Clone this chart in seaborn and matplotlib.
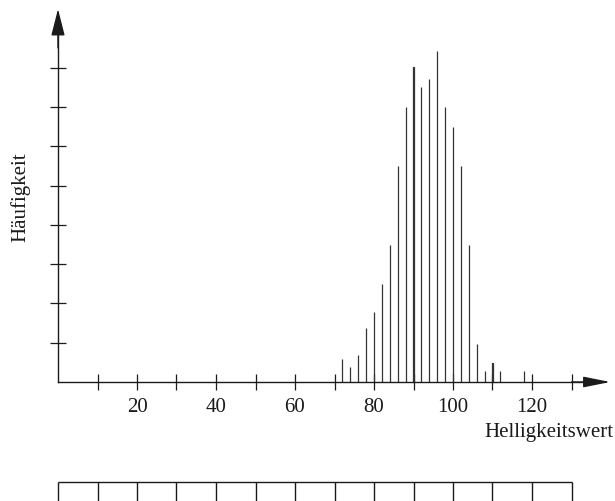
import matplotlib
matplotlib.use('Agg')
import matplotlib.pyplot as plt
import seaborn as sns
import pandas as pd

# Histogramm: Helligkeitswert -> Häufigkeit
helligkeit = [72, 74, 76, 78, 80, 82, 84, 86, 88, 90, 92, 94, 96, 98,
              100, 102, 104, 106, 108, 110, 112, 118]
haeufigkeit = [0.58, 0.38, 0.68, 1.38, 1.78, 2.49, 3.48, 5.5, 7.0, 8.02, 7.5, 7.7, 8.41, 7.0,
               6.5, 5.5, 3.48, 0.97, 0.28, 0.49, 0.28, 0.28]
x_ticks = list(range(10, 140, 10))
x_labels = [str(t) if 20 <= t <= 120 and t % 20 == 0 else '' for t in x_ticks]
y_ticks = list(range(1, 9))
zellen = list(range(0, 140, 10))


def main():
    sns.set_theme(style='white')
    plt.rcParams['font.family'] = ['Liberation Serif', 'DejaVu Serif']
    ink = '#1a1a1a'
    fs = 15

    fig = plt.figure(figsize=(6.15, 5.02), dpi=100)
    ax = fig.add_axes([0, 0, 1, 1])
    ax.patch.set_alpha(0)

    df = pd.DataFrame({'Helligkeitswert': helligkeit, 'Häufigkeit': haeufigkeit})
    sns.barplot(data=df, x='Helligkeitswert', y='Häufigkeit', native_scale=True,
                width=0.001, color=ink, saturation=1, linewidth=0.9, edgecolor='#333333',
                ax=ax)

    # pixel geometry of the reference: origin (58, 383), 3.95 px per unit in x, 39.3 px per unit in y
    ax.set_xlim(-58 / 3.95, (615 - 58) / 3.95)
    ax.set_ylim(-(502 - 383) / 39.3, 383 / 39.3)

    for s in ['top', 'right']:
        ax.spines[s].set_visible(False)
    ax.spines['left'].set_position(('data', 0))
    ax.spines['bottom'].set_position(('data', 0))
    ax.spines['left'].set_bounds(0, 9.0)
    ax.spines['bottom'].set_bounds(0, 135)
    for s in ['left', 'bottom']:
        ax.spines[s].set_color(ink)
        ax.spines[s].set_linewidth(1.0)

    ax.set_xticks(x_ticks)
    ax.set_xticklabels(x_labels)
    ax.set_yticks(y_ticks)
    ax.set_yticklabels([])
    ax.tick_params(axis='x', direction='inout', length=11, width=0.9, color=ink,
                   pad=5, labelsize=fs, labelcolor=ink, bottom=True)
    ax.tick_params(axis='y', direction='inout', length=11.5, width=0.9, color=ink,
                   left=True)
    ax.set_xlabel('')
    ax.set_ylabel('')

    # Pfeilspitzen
    ax.annotate('', xy=(139.8, 0), xytext=(130, 0),
                arrowprops=dict(arrowstyle='-|>,head_length=1.65,head_width=0.33',
                                mutation_scale=10, lw=1.0, color=ink, shrinkA=0, shrinkB=0),
                annotation_clip=False)
    ax.annotate('', xy=(0, 9.49), xytext=(0, 8.5),
                arrowprops=dict(arrowstyle='-|>,head_length=1.65,head_width=0.42',
                                mutation_scale=10, lw=1.0, color=ink, shrinkA=0, shrinkB=0),
                annotation_clip=False)

    ax.text(140.6, -1.25, 'Helligkeitswert', ha='right', va='center', fontsize=fs, color=ink)
    ax.text(-9.6, 4.73, 'Häufigkeit', ha='center', va='center', rotation=90,
            fontsize=fs, color=ink)

    # Skala unten
    ax.hlines(-2.54, zellen[0], zellen[-1], color=ink, lw=1.0)
    ax.vlines(zellen, -3.3, -2.54, color=ink, lw=1.0)

    fig.savefig('out.png', dpi=100)


if __name__ == '__main__':
    main()
